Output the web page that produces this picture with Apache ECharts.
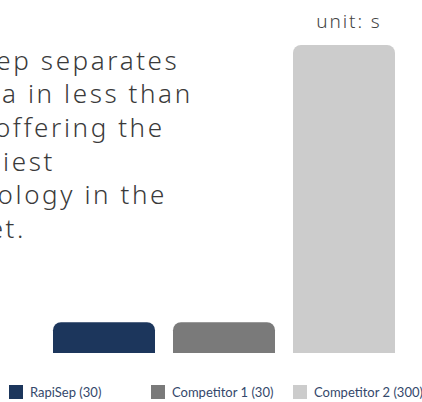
<!DOCTYPE html>
<html>
<head>
<meta charset="utf-8">
<script src="https://cdn.jsdelivr.net/npm/echarts@6/dist/echarts.min.js"></script>
<style>
html,body{margin:0;padding:0;background:#fff;}
#chart{width:422px;height:402px;}
</style>
</head>
<body>
<div id="chart"></div>
<script>
var categories = ['RapiSep', 'Competitor 1', 'Competitor 2'];
var values = [30, 30, 300];
var colors = ['#1c365c', '#7a7a7a', '#cccccc'];
var unitLabel = 'unit: s';
var descLines = [
  'RapiSep separates',
  'plasma in less than',
  '30 s, offering the',
  'speediest',
  'technology in the',
  'market.'
];

var chart = echarts.init(document.getElementById('chart'), null, {renderer: 'svg'});

var series = categories.map(function (name, i) {
  return {
    name: name,
    type: 'bar',
    stack: 'all',
    barCategoryGap: '15%',
    itemStyle: {color: colors[i], borderRadius: [8, 8, 0, 0]},
    data: categories.map(function (c, j) { return j === i ? values[i] : '-'; })
  };
});

var legendLefts = [9, 151, 293];
var legends = categories.map(function (name, i) {
  return {
    data: [name],
    left: legendLefts[i],
    top: 385,
    padding: 0,
    itemWidth: 14,
    itemHeight: 14,
    icon: 'rect',
    selectedMode: false,
    formatter: function (n) { return n + ' (' + values[categories.indexOf(n)] + ')'; },
    textStyle: {color: '#34486b', fontSize: 13, fontFamily: 'Lato', padding: [0, 0, 0, 2]}
  };
});

chart.setOption({
  animation: false,
  color: colors,
  grid: {left: 44, right: 18, top: 45, bottom: 49},
  xAxis: {type: 'category', data: categories, show: false},
  yAxis: {type: 'value', min: 0, max: 300, show: false},
  legend: legends,
  graphic: [
    {
      type: 'text',
      x: -82,
      y: 43,
      style: {
        text: descLines.join('\n'),
        font: '300 26px "Noto Sans"',
        lineHeight: 33.6,
        fill: '#3a3a3a',
        textAlign: 'left',
        textVerticalAlign: 'top'
      }
    },
    {
      type: 'text',
      x: 349,
      y: 11,
      style: {
        text: unitLabel,
        font: '300 19px "Noto Sans"',
        fill: '#444444',
        textAlign: 'center',
        textVerticalAlign: 'top'
      }
    }
  ],
  series: series
});

function applySpacing() {
  var texts = document.querySelectorAll('#chart svg text');
  texts.forEach(function (t) {
    var fs = parseFloat(getComputedStyle(t).fontSize);
    if (fs >= 18) { t.style.letterSpacing = (fs * 0.1).toFixed(2) + 'px'; }
  });
}
applySpacing();
chart.on('finished', applySpacing);
</script>
</body>
</html>
